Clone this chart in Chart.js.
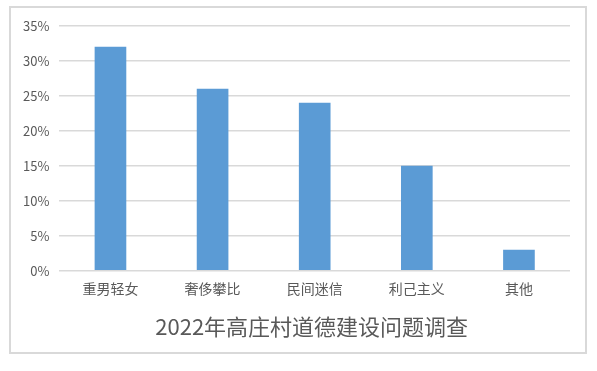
<!DOCTYPE html>
<html>
<head>
<meta charset="utf-8">
<script src="https://cdn.jsdelivr.net/npm/chart.js@4.4.0/dist/chart.umd.min.js"></script>
<style>
  html, body { margin: 0; padding: 0; background: #fff; }
  #box {
    position: absolute; left: 9px; top: 6px;
    width: 574px; height: 344px;
    border: 2px solid #d9d9d9;
  }
</style>
</head>
<body>
<div id="box"><canvas id="chart" width="574" height="344"></canvas></div>
<script>
// ===== Datos =====
const categorias = ['重男轻女', '奢侈攀比', '民间迷信', '利己主义', '其他'];
const porcentajes = [32, 26, 24, 15, 3];
const ticksY = [0, 5, 10, 15, 20, 25, 30, 35];

const fuente = '"Noto Sans CJK SC", "Noto Sans", sans-serif';
const gris = '#595959';

// centrar el título bajo el área del gráfico (como en Excel)
const tituloCentrado = {
    id: 'tituloCentrado',
    afterLayout(chart) {
        const t = chart.titleBlock;
        if (!t) return;
        const ancho = t.right - t.left;
        const centro = (chart.chartArea.left + chart.chartArea.right) / 2 - 3;
        t.left = centro - ancho / 2;
        t.right = centro + ancho / 2;
    }
};

new Chart(document.getElementById('chart').getContext('2d'), {
    type: 'bar',
    data: {
        labels: categorias,
        datasets: [{
            data: porcentajes,
            backgroundColor: '#5b9bd5',
            categoryPercentage: 1,
            barPercentage: 0.31
        }]
    },
    plugins: [tituloCentrado],
    options: {
        responsive: false,
        animation: false,
        layout: { padding: { left: 2, right: 15, top: 7, bottom: 1 } },
        plugins: {
            legend: { display: false },
            tooltip: { enabled: false },
            title: {
                display: true,
                position: 'bottom',
                text: '2022年高庄村道德建设问题调查',
                color: gris,
                font: { family: fuente, size: 22, weight: 'normal' },
                padding: { top: 16, bottom: 11 }
            }
        },
        scales: {
            x: {
                grid: { display: false },
                border: { display: false },
                ticks: { color: gris, font: { family: fuente, size: 14 }, padding: 1 }
            },
            y: {
                min: 0,
                max: 35,
                afterBuildTicks: axis => { axis.ticks = ticksY.map(v => ({ value: v })); },
                grid: { color: '#d9d9d9', lineWidth: 1.5, drawTicks: false },
                border: { display: false },
                ticks: {
                    color: gris,
                    font: { family: fuente, size: 13 },
                    padding: 10,
                    callback: v => v + '%'
                }
            }
        }
    }
});
</script>
</body>
</html>
